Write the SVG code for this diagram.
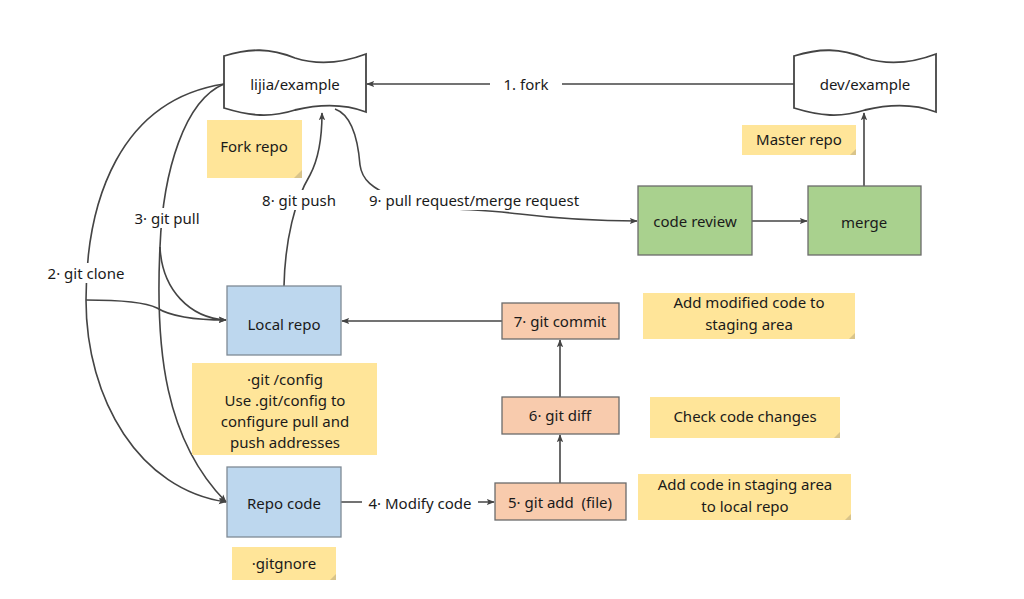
<svg xmlns="http://www.w3.org/2000/svg" width="1024" height="599" viewBox="0 0 1024 599">
<defs>
<marker id="arr" viewBox="0 0 10 10" refX="9" refY="5" markerWidth="8" markerHeight="8" markerUnits="userSpaceOnUse" orient="auto">
<path d="M0,1 L10,5 L0,9 L2,5 Z" fill="#444"/>
</marker>
<style>
text{font-family:"Noto Sans","Open Sans","DejaVu Sans",sans-serif;font-size:15px;fill:#1a1a1a;text-anchor:middle;dominant-baseline:central}
.con{fill:none;stroke:#444;stroke-width:1.6}
.note{fill:#FFE599}
.fold{fill:#D9C48A}
.blue{fill:#BDD7EE;stroke:#7f8a95;stroke-width:1.3}
.green{fill:#A9D18E;stroke:#6b6b6b;stroke-width:1.3}
.orange{fill:#F8CBAD;stroke:#6b6b6b;stroke-width:1.3}
.tape{fill:#fff;stroke:#444;stroke-width:1.8}
.lbg{fill:#fff}
</style>
</defs>
<rect width="1024" height="599" fill="#fff"/>

<g id="connectors">
<path class="con" d="M794,84 L367,84" marker-end="url(#arr)"/>
<path class="con" d="M224,84 C120,100 86,200 86,300 C86,400 140,490 226,502" marker-end="url(#arr)"/>
<path class="con" d="M86,300 C120,300 145,302 157,308 C170,316 195,320 226,320" marker-end="url(#arr)"/>
<path class="con" d="M224,84 C185,100 163,170 160,247 C155,350 165,440 226,502" marker-end="url(#arr)"/>
<path class="con" d="M160,247 C162,290 190,318 226,320" marker-end="url(#arr)"/>
<path class="con" d="M284,286 C285,240 295,200 310,175 C318,160 322,140 322,113" marker-end="url(#arr)"/>
<path class="con" d="M335,109 C352,115 358,140 360,165 C362,180 372,188 395,198 C420,210 470,208 520,214 C570,220 600,221 637,221" marker-end="url(#arr)"/>
<path class="con" d="M752,221 L807,221" marker-end="url(#arr)"/>
<path class="con" d="M864,186 L864,113" marker-end="url(#arr)"/>
<path class="con" d="M502,321 L342,321" marker-end="url(#arr)"/>
<path class="con" d="M560,397 L560,340" marker-end="url(#arr)"/>
<path class="con" d="M560,483 L560,435" marker-end="url(#arr)"/>
<path class="con" d="M341,502 L494,502" marker-end="url(#arr)"/>
<rect class="lbg" x="490" y="74" width="72" height="20"/>
<text x="526" y="84">1. fork</text>
<rect class="lbg" x="44" y="263" width="84" height="20"/>
<text x="86" y="273">2· git clone</text>
<rect class="lbg" x="131" y="208" width="72" height="20"/>
<text x="167" y="218">3· git pull</text>
<rect class="lbg" x="259" y="190" width="81" height="20"/>
<text x="299" y="200">8· git push</text>
<rect class="lbg" x="366" y="190" width="216" height="20"/>
<text x="474" y="200">9· pull request/merge request</text>
<rect class="lbg" x="362" y="493" width="116" height="20"/>
<text x="420" y="503">4· Modify code</text>
</g>

<g id="lijia">
<path class="tape" d="M224,56 C250,48 270,48 295,58 C320,66 345,62 366,54 L366,112 C345,104 320,104 295,110 C270,118 250,116 224,108 Z"/>
<text x="295" y="84">lijia/example</text>
</g>
<g id="dev">
<path class="tape" d="M794,56 C820,48 840,48 865,58 C890,66 915,62 936,54 L936,112 C915,104 890,104 865,110 C840,118 820,116 794,108 Z"/>
<text x="865" y="84">dev/example</text>
</g>

<g id="forkrepo">
<rect class="note" x="207" y="120" width="95" height="58"/>
<path class="fold" d="M302,170 L302,178 L294,178 Z"/>
<text x="254" y="146">Fork repo</text>
</g>
<g id="masterrepo">
<rect class="note" x="742" y="125" width="114" height="30"/>
<path class="fold" d="M856,149 L856,155 L850,155 Z"/>
<text x="799" y="139">Master repo</text>
</g>

<g id="codereview">
<rect class="green" x="638" y="186" width="114" height="69"/>
<text x="695" y="221">code review</text>
</g>
<g id="merge">
<rect class="green" x="808" y="186" width="113" height="69"/>
<text x="864" y="222">merge</text>
</g>

<g id="localrepo">
<rect class="blue" x="227" y="286" width="114" height="69"/>
<text x="284" y="324">Local repo</text>
</g>
<g id="confignote">
<rect class="note" x="192" y="363" width="185" height="92"/>
<text x="285" y="379">·git /config</text>
<text x="285" y="400">Use .git/config to</text>
<text x="285" y="421">configure pull and</text>
<text x="285" y="442">push addresses</text>
</g>
<g id="repocode">
<rect class="blue" x="227" y="467" width="114" height="70"/>
<text x="284" y="503">Repo code</text>
</g>
<g id="gitignore">
<rect class="note" x="232" y="547" width="104" height="33"/>
<path class="fold" d="M336,574 L336,580 L330,580 Z"/>
<text x="284" y="563">·gitgnore</text>
</g>

<g id="commit">
<rect class="orange" x="502" y="303" width="117" height="36"/>
<text x="560" y="321">7· git commit</text>
</g>
<g id="diff">
<rect class="orange" x="502" y="397" width="117" height="37"/>
<text x="560" y="415">6· git diff</text>
</g>
<g id="add">
<rect class="orange" x="495" y="483" width="131" height="37"/>
<text x="560" y="502">5· git add&#160; (file)</text>
</g>

<g id="note7">
<rect class="note" x="643" y="293" width="212" height="46"/>
<path class="fold" d="M855,333 L855,339 L849,339 Z"/>
<text x="749" y="302">Add modified code to</text>
<text x="749" y="324">staging area</text>
</g>
<g id="note6">
<rect class="note" x="650" y="397" width="190" height="41"/>
<path class="fold" d="M840,432 L840,438 L834,438 Z"/>
<text x="745" y="416">Check code changes</text>
</g>
<g id="note5">
<rect class="note" x="638" y="474" width="213" height="46"/>
<path class="fold" d="M851,514 L851,520 L845,520 Z"/>
<text x="745" y="484">Add code in staging area</text>
<text x="745" y="506">to local repo</text>
</g>
</svg>
